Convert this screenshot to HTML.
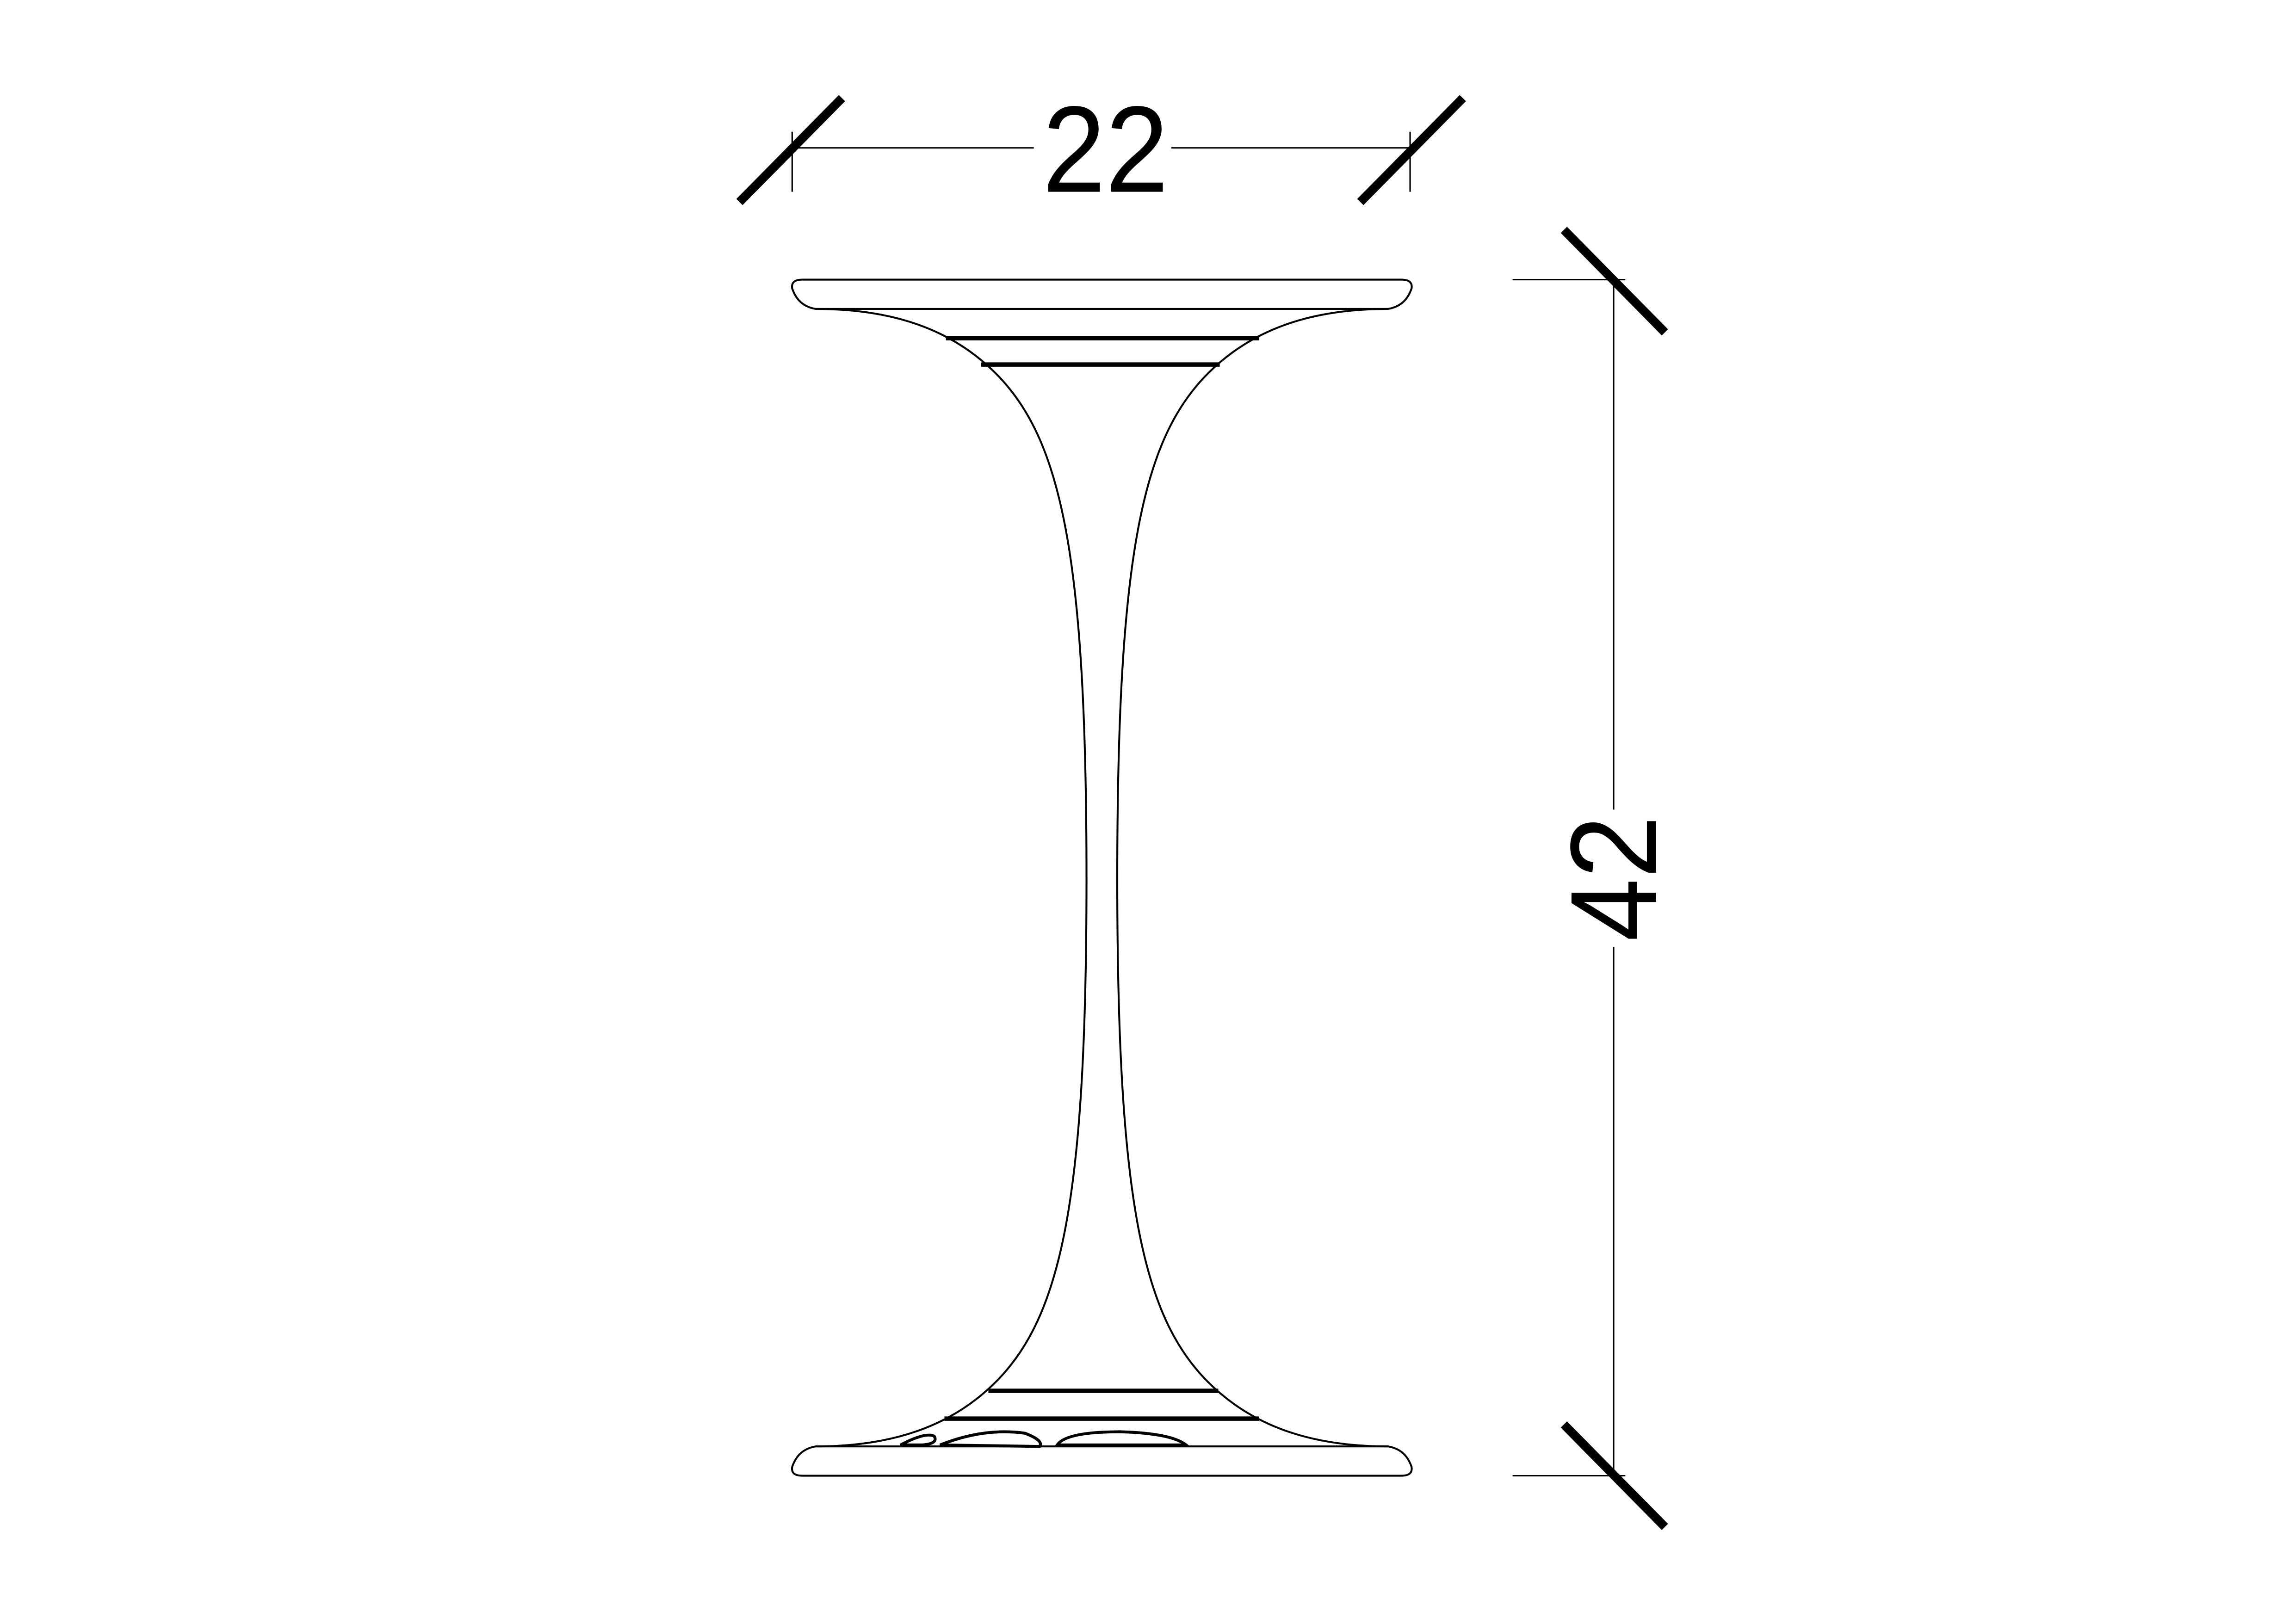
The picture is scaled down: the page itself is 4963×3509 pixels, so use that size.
<!DOCTYPE html>
<html><head><meta charset="utf-8"><style>
html,body{margin:0;padding:0;background:#fff;}
svg{display:block;}
</style></head><body>
<svg width="4963" height="3509" viewBox="0 0 1568 1108.6" xmlns="http://www.w3.org/2000/svg" fill="none" stroke="#000">
  <rect x="0" y="0" width="1568" height="1108.6" fill="#fff" stroke="none"/>
  <g>
    <line x1="541" y1="101" x2="706" y2="101" stroke-width="1"/>
    <line x1="800" y1="101" x2="963" y2="101" stroke-width="1"/>
    <line x1="541" y1="90" x2="541" y2="131" stroke-width="1"/>
    <line x1="963" y1="90" x2="963" y2="131" stroke-width="1"/>
    <line x1="505" y1="138" x2="575" y2="67" stroke-width="6"/>
    <line x1="929" y1="138" x2="999" y2="67" stroke-width="6"/>
    <text x="755" y="131" text-anchor="middle" font-family="Liberation Sans, sans-serif" font-size="84" fill="#000" stroke="none" textLength="86" lengthAdjust="spacingAndGlyphs">22</text>
  </g>
  <g>
    <line x1="1102" y1="191" x2="1102" y2="553" stroke-width="1"/>
    <line x1="1102" y1="647" x2="1102" y2="1008" stroke-width="1"/>
    <line x1="1033" y1="191" x2="1110" y2="191" stroke-width="1"/>
    <line x1="1033" y1="1008" x2="1110" y2="1008" stroke-width="1"/>
    <line x1="1068" y1="157" x2="1137" y2="227" stroke-width="6"/>
    <line x1="1068" y1="973" x2="1137" y2="1043" stroke-width="6"/>
    <text transform="translate(1131,600) rotate(-90)" x="0" y="0" text-anchor="middle" font-family="Liberation Sans, sans-serif" font-size="84" fill="#000" stroke="none" textLength="86" lengthAdjust="spacingAndGlyphs">42</text>
  </g>
  <g stroke-width="1.3">
    <path d="M548,191 L957,191 Q965,191 964,197 Q960,209 948,211 L557,211 Q545,209 541,197 Q540,191 548,191 Z"/>
    <path d="M557,988 L948,988 Q960,990 964,1002 Q965,1008 957,1008 L548,1008 Q540,1008 541,1002 Q545,990 557,988 Z"/>
    <path d="M557,211 C610,211 650,225 680,255 C725,300 742,380 742,600 C742,819 725,899 680,944 C650,974 610,988 557,988"/>
    <path d="M948,211 C895,211 855,225 825,255 C780,300 763,380 763,600 C763,819 780,899 825,944 C855,974 895,988 948,988"/>
    <line x1="646" y1="231" x2="860" y2="231" stroke-width="3"/>
    <line x1="670" y1="249" x2="833" y2="249" stroke-width="3"/>
    <line x1="675" y1="950" x2="832" y2="950" stroke-width="3"/>
    <line x1="645" y1="969" x2="860" y2="969" stroke-width="3"/>
    <path stroke-width="2" d="M615,987 Q632,978 638,981 Q641,986 630,987 Z"/>
    <path stroke-width="2" d="M642,987 Q672,975 700,979 Q713,984 710,988 Z"/>
    <path stroke-width="2" d="M722,987 Q728,978 765,978 Q800,979 810,987 Z"/>
  </g>
</svg>
</body></html>
